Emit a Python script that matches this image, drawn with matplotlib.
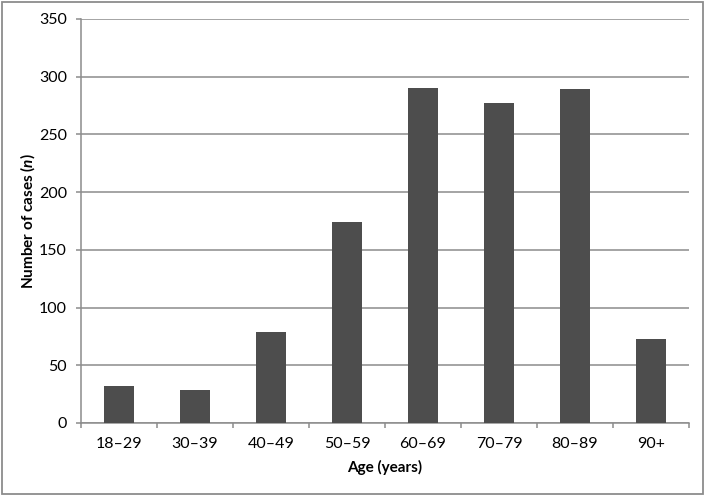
import matplotlib
matplotlib.use("Agg")
import matplotlib.pyplot as plt
from matplotlib.patches import Rectangle
import numpy as np

# age groups and number of cases
age_groups = ["18\u201329", "30\u201339", "40\u201349", "50\u201359",
              "60\u201369", "70\u201379", "80\u201389", "90+"]
cases = [32, 29, 79, 174, 290, 277, 289, 73]
y_ticks = [0, 50, 100, 150, 200, 250, 300, 350]

plt.rcParams["font.family"] = ["Lato", "DejaVu Sans"]
plt.rcParams["mathtext.fontset"] = "custom"
plt.rcParams["mathtext.bfit"] = "Lato:italic:bold"

fig = plt.figure(figsize=(7.09, 4.96), dpi=100)
ax = fig.add_axes([81 / 709, 1 - 423 / 496, 608 / 709, 404 / 496])

x = np.arange(len(age_groups))
ax.bar(x, cases, width=0.4, color="#4d4d4d", zorder=3)

ax.set_xlim(-0.5, len(age_groups) - 0.5)
ax.set_ylim(0, 350)
ax.set_yticks(y_ticks)
ax.set_yticklabels([str(t) for t in y_ticks], fontsize=11.5)
ax.yaxis.grid(True, color="#8c8c8c", linewidth=1.1, zorder=0)

# category labels centred, ticks on the boundaries
ax.set_xticks(np.arange(-0.5, len(age_groups)), minor=False)
ax.set_xticklabels([])
ax.set_xticks(x, minor=True)
ax.set_xticklabels(age_groups, minor=True, fontsize=11.5)
ax.tick_params(axis="x", which="minor", length=0, pad=10)
ax.tick_params(axis="x", which="major", length=3.6, color="#8c8c8c", width=1.1)
ax.tick_params(axis="y", length=3.6, color="#8c8c8c", width=1.1, pad=6.5)

for side in ["top", "right"]:
    ax.spines[side].set_visible(False)
for side in ["left", "bottom"]:
    ax.spines[side].set_color("#8c8c8c")
    ax.spines[side].set_linewidth(1.1)

ax.set_xlabel("Age (years)", fontsize=11, fontweight="bold")
ax.xaxis.set_label_coords(0.5, -(460 - 423) / 404)
ax.set_ylabel("Number of cases ($\\bfit{n}$)", fontsize=11, fontweight="bold")
ax.yaxis.set_label_coords(-(81 - 37) / 608, 0.5)

# grey frame round the whole chart
fig.patches.append(Rectangle((2 / 709, 2 / 496), 701 / 709, 492 / 496,
                             transform=fig.transFigure, fill=False,
                             edgecolor="#8c8c8c", linewidth=1.3))

fig.savefig("out.png", dpi=100, facecolor="white")
